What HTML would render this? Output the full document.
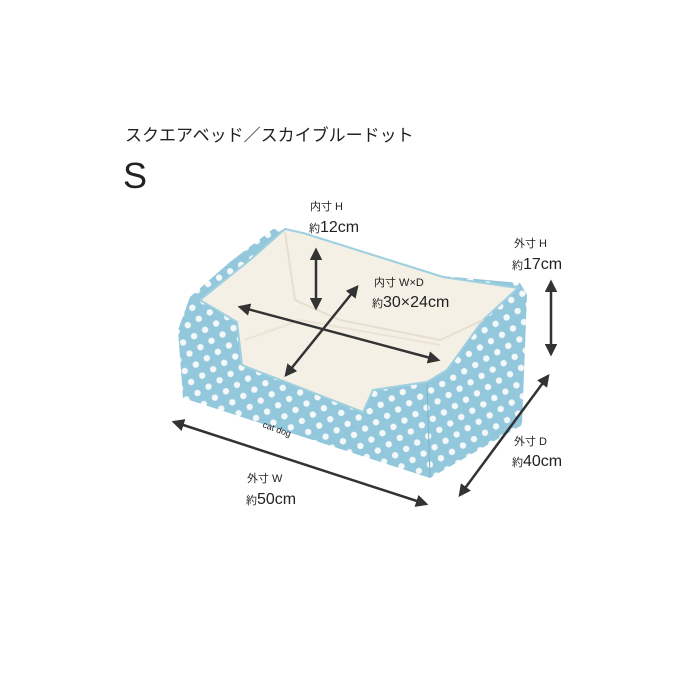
<!DOCTYPE html><html><head><meta charset="utf-8"><style>
body{margin:0;background:#fff}
svg{display:block}
text{font-family:"Liberation Sans","Noto Sans CJK JP",sans-serif;fill:#222}
</style></head><body>
<svg width="700" height="700" viewBox="0 0 700 700">
<defs>
<pattern id="dots" width="18" height="18" patternUnits="userSpaceOnUse" patternTransform="rotate(15)">
<rect width="18" height="18" fill="#93c7dc"/>
<circle cx="4.5" cy="4.5" r="3.2" fill="#f4f8f8"/><circle cx="13.5" cy="13.5" r="3.2" fill="#f4f8f8"/>
</pattern>
<marker id="a" viewBox="0 0 10 10" refX="8" refY="5" markerWidth="5" markerHeight="5" orient="auto-start-reverse"><path d="M0 0L10 5L0 10z" fill="#333"/></marker>
</defs>
<text x="125" y="141" font-size="17">スクエアベッド／スカイブルードット</text>
<text x="123" y="188" font-size="36">S</text>
<path d="M190 297 L230 262 L273 229 L303 232 L443 276 L520 283 L527 295 L522 425 L430 478 L183 398 L178 330 Z" fill="url(#dots)"/>
<path d="M427 383 L430 478" stroke="#7fb3c8" stroke-width="1"/>
<path d="M200 300 L237 322 L242 365 L363 412 L373 390 L427 382 L447 370 L483 320 L518 288 L443 277 L303 233 L285 229 L250 260 Z" fill="#f5f0e5" stroke="#9fd0e0" stroke-width="2"/>
<path d="M285 232 L295 300 L340 320 L440 340 L483 320" fill="none" stroke="#e6dfcf" stroke-width="2"/>
<path d="M245 340 L300 320 L440 345" fill="none" stroke="#ebe4d4" stroke-width="2"/>
<text x="262" y="427" font-size="9" fill="#d8c8a0" transform="rotate(20 262 427)">cat dog</text>
<g stroke="#333" stroke-width="2.5" marker-start="url(#a)" marker-end="url(#a)">
<line x1="316" y1="250" x2="316" y2="308"/>
<line x1="240" y1="307" x2="438" y2="360"/>
<line x1="357" y1="287" x2="286" y2="375"/>
<line x1="551" y1="282" x2="551" y2="354"/>
<line x1="174" y1="422" x2="426" y2="504"/>
<line x1="548" y1="376" x2="460" y2="495"/>
</g>
<g font-size="11">
<text x="310" y="210">内寸 H</text>
<text x="374" y="286">内寸 W×D</text>
<text x="514" y="247">外寸 H</text>
<text x="514" y="445">外寸 D</text>
<text x="247" y="482">外寸 W</text>
</g>
<g font-size="16">
<text x="309" y="232"><tspan font-size="11">約</tspan>12cm</text>
<text x="372" y="307"><tspan font-size="11">約</tspan>30×24cm</text>
<text x="512" y="269"><tspan font-size="11">約</tspan>17cm</text>
<text x="512" y="466"><tspan font-size="11">約</tspan>40cm</text>
<text x="246" y="504"><tspan font-size="11">約</tspan>50cm</text>
</g>
</svg>
</body></html>
